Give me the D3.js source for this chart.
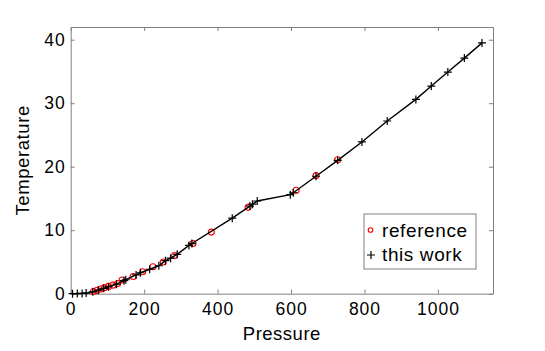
<!DOCTYPE html>
<html>
<head>
<meta charset="utf-8">
<script src="https://cdn.jsdelivr.net/npm/d3@7"></script>
<style>
  body { margin: 0; background: #fff; }
  svg text { font-family: "Liberation Sans", Arial, sans-serif; fill: #000; }
</style>
</head>
<body>
<div id="chart"></div>
<script>
// "this work" series (pressure, temperature)
const workPressure = [5, 18, 31, 42, 60, 75, 90, 103, 125, 145, 150, 178, 190, 215, 240, 258, 272, 290, 322, 330,
  440, 488, 495, 508, 598, 606, 668, 727, 793, 862, 940, 982, 1027, 1072, 1120];
const workTemp = [0.0, 0.02, 0.05, 0.1, 0.3, 0.55, 0.85, 1.1, 1.5, 2.05, 2.2, 2.95, 3.3, 3.85, 4.4, 5.2, 5.6, 6.2, 7.6, 7.9,
  11.9, 13.8, 14.1, 14.6, 15.6, 15.9, 18.5, 21.0, 23.9, 27.2, 30.6, 32.7, 34.9, 37.1, 39.5];

// "reference" series
const refPressure = [62, 72, 82, 92, 103, 115, 128, 140, 170, 196, 224, 252, 283, 333, 383, 483, 614, 668, 727];
const refTemp = [0.35, 0.55, 0.75, 0.95, 1.15, 1.35, 1.6, 2.15, 2.7, 3.45, 4.25, 5.0, 6.0, 7.9, 9.7, 13.6, 16.3, 18.6, 21.1];

const xTicks = [0, 200, 400, 600, 800, 1000];
const yTicks = [0, 10, 20, 30, 40];
const legendLabels = ["reference", "this work"];

const width = 545, height = 351;
const margin = { top: 27, right: 52, bottom: 57.3, left: 70.7 };
const axisColor = "#808080";

const svg = d3.select("#chart").append("svg")
    .attr("width", width)
    .attr("height", height);

const x = d3.scaleLinear().domain([0, 1150]).range([margin.left, width - margin.right]);
const y = d3.scaleLinear().domain([0, 42]).range([height - margin.bottom, margin.top]);

// axes, MATLAB style: ticks inward on all four sides
const styleAxis = g => {
    g.select(".domain").attr("stroke", axisColor).attr("fill", "none");
    g.selectAll(".tick line").attr("stroke", axisColor);
    g.selectAll(".tick text")
        .attr("font-size", 17.5)
        .attr("letter-spacing", 1)
        .attr("fill", "#000");
};

svg.append("g")
    .attr("transform", `translate(0,${y(0)})`)
    .call(d3.axisBottom(x).tickValues(xTicks).tickSizeInner(-4).tickSizeOuter(0).tickPadding(9).tickFormat(d3.format("d")))
    .call(styleAxis);

svg.append("g")
    .attr("transform", `translate(0,${y(42)})`)
    .call(d3.axisTop(x).tickValues(xTicks).tickSizeInner(-4).tickSizeOuter(0).tickFormat(""))
    .call(styleAxis);

svg.append("g")
    .attr("transform", `translate(${x(0)},0)`)
    .call(d3.axisLeft(y).tickValues(yTicks).tickSizeInner(-4).tickSizeOuter(0).tickPadding(5))
    .call(styleAxis);

svg.append("g")
    .attr("transform", `translate(${x(1150)},0)`)
    .call(d3.axisRight(y).tickValues(yTicks).tickSizeInner(-4).tickSizeOuter(0).tickFormat(""))
    .call(styleAxis);

// axis titles
svg.append("text")
    .attr("x", (x(0) + x(1150)) / 2)
    .attr("y", 340)
    .attr("text-anchor", "middle")
    .attr("font-size", 18.5)
    .attr("letter-spacing", 0.5)
    .text("Pressure");

svg.append("text")
    .attr("transform", `translate(29,${(y(0) + y(42)) / 2}) rotate(-90)`)
    .attr("text-anchor", "middle")
    .attr("font-size", 18.5)
    .attr("letter-spacing", 0.6)
    .text("Temperature");

// reference circles
const refData = refPressure.map((p, i) => ({ p, t: refTemp[i] }));
svg.append("g").selectAll("circle")
    .data(refData)
    .enter()
    .append("circle")
    .attr("cx", d => x(d.p))
    .attr("cy", d => y(d.t))
    .attr("r", 3)
    .attr("fill", "none")
    .attr("stroke", "#ff0000")
    .attr("stroke-width", 1.1);

// this work line + plus markers
const workData = workPressure.map((p, i) => ({ p, t: workTemp[i] }));
svg.append("path")
    .datum(workData)
    .attr("fill", "none")
    .attr("stroke", "#000")
    .attr("stroke-width", 1.4)
    .attr("d", d3.line().x(d => x(d.p)).y(d => y(d.t)));

const plus = s => `M${-s},0H${s}M0,${-s}V${s}`;
svg.append("g").selectAll("path")
    .data(workData)
    .enter()
    .append("path")
    .attr("transform", d => `translate(${x(d.p)},${y(d.t)})`)
    .attr("d", plus(4))
    .attr("stroke", "#000")
    .attr("stroke-width", 1.2);

// legend
const legend = svg.append("g").attr("transform", "translate(364,214)");
legend.append("rect")
    .attr("width", 112)
    .attr("height", 55)
    .attr("fill", "#fff")
    .attr("stroke", axisColor);
legend.append("circle")
    .attr("cx", 6.5).attr("cy", 16).attr("r", 2.3)
    .attr("fill", "none").attr("stroke", "#ff0000").attr("stroke-width", 1.1);
legend.append("path")
    .attr("transform", "translate(7,41)")
    .attr("d", plus(4))
    .attr("stroke", "#000").attr("stroke-width", 1.2);
legend.selectAll("text.lbl")
    .data(legendLabels)
    .enter()
    .append("text")
    .attr("class", "lbl")
    .attr("x", 18)
    .attr("y", (d, i) => 23 + i * 24)
    .attr("font-size", 19)
    .attr("letter-spacing", 0.6)
    .text(d => d);
</script>
</body>
</html>
